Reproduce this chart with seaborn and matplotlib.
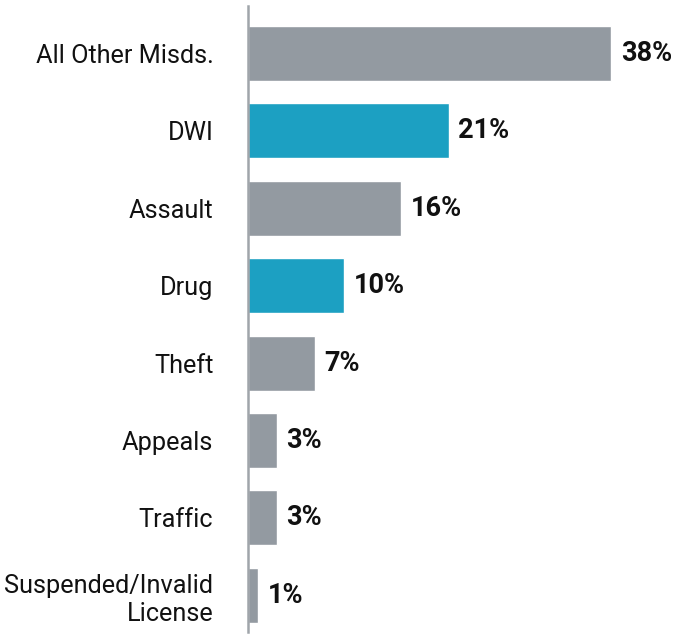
import pandas as pd
import matplotlib.pyplot as plt
import seaborn as sns

# chart data
categories = ["All Other Misds.", "DWI", "Assault", "Drug", "Theft",
              "Appeals", "Traffic", "Suspended/Invalid\nLicense"]
shares = [38, 21, 16, 10, 7, 3, 3, 1]
highlight = ["DWI", "Drug"]

gray = "#939aa1"
teal = "#1ca0c2"

df = pd.DataFrame({"Category": categories, "Share": shares})
colors = {c: (teal if c in highlight else gray) for c in categories}

sns.set_style("white")
plt.rcParams["font.family"] = ["Roboto", "DejaVu Sans"]

fig = plt.figure(figsize=(6.76, 6.35), dpi=100)
ax = fig.add_axes([0.367, 0.0047, 0.633, 0.9859])

sns.barplot(data=df, x="Share", y="Category", hue="Category",
            palette=colors, legend=False, width=0.71, saturation=1, ax=ax)

ax.set_xlim(0, 44.8)
ax.set_ylim(7.474, -0.614)

# value labels
for cont in ax.containers:
    ax.bar_label(cont, labels=[f"{v:.0f}%" for v in cont.datavalues],
                 padding=7, fontsize=19.5, fontweight="bold", color="#111111")

ax.set_xlabel("")
ax.set_ylabel("")
ax.set_xticks([])
ax.tick_params(axis="y", length=0, pad=25, labelsize=18.2, labelcolor="#111111")

for s in ["top", "right", "bottom"]:
    ax.spines[s].set_visible(False)
ax.spines["left"].set_color("#a0a5aa")
ax.spines["left"].set_linewidth(1.8)

fig.savefig("out.png", dpi=100)
